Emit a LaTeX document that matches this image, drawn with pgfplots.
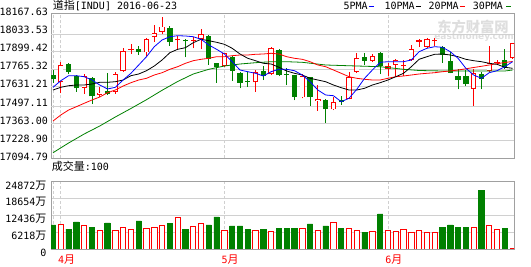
\documentclass[border=0pt]{standalone}
\usepackage{fontspec}
\setmainfont{DejaVu Sans Mono}
\newfontfamily\cjk[Scale=1.1]{Noto Sans CJK SC}
\newfontfamily\wmfont{DejaVu Sans}
\usepackage{pgfplots}
\usepackage{pgfplotstable}
\pgfplotsset{compat=1.18}
\definecolor{vgreen}{RGB}{0,128,0}
\definecolor{vred}{RGB}{255,0,0}
\definecolor{vblue}{RGB}{0,0,255}
\definecolor{gridc}{RGB}{208,208,208}
\definecolor{framec}{RGB}{160,160,160}
\definecolor{wm}{RGB}{222,222,222}
% candles: index, low, body bottom, body top, high
\pgfplotstableread{
x L B T H
0 17654.1 17681.5 17711.1 17748.1
2 17718.5 17735.5 17792.5 17799.9
3 17587.5 17612.7 17705.9 17711.1
5 17498.8 17553.5 17686.7 17698.5
7 17563.2 17570.6 17592.7 17723.7
11 17859.1 17883.5 17905.7 17925.7
15 17925.7 17957.6 18058.9 18075.9
17 17842.1 17959.0 17970.1 17975.3
20 17785.1 17829.5 18001.9 18007.1
21 17654.1 17768.1 17797.7 17799.9
23 17668.9 17742.9 17846.5 17853.9
24 17612.7 17654.1 17728.1 17733.3
25 17624.5 17663.5 17670.0 17735.5
27 17674.1 17705.9 17740.7 17777.7
29 17703.7 17711.1 17896.1 17903.5
30 17637.1 17714.5 17721.5 17760.7
31 17522.5 17550.6 17711.1 17714.8
33 17483.9 17546.1 17694.1 17698.5
35 17358.2 17455.9 17526.2 17531.3
37 17492.8 17507.7 17522.5 17559.4
40 17785.1 17814.7 17842.1 17871.7
42 17718.5 17777.7 17873.9 17883.5
50 17799.9 17859.1 17920.5 17925.7
51 17723.7 17729.6 17814.7 17883.5
52 17603.9 17676.4 17703.7 17753.3
53 17629.7 17644.5 17703.7 17748.1
55 17603.9 17679.3 17722.2 17735.5
58 17755.5 17768.1 17822.1 17901.3
}\greenc
\pgfplotstableread{
x L B T H
1 17577.9 17661.5 17785.1 17807.3
4 17574.2 17618.6 17705.9 17718.5
6 17546.1 17563.2 17580.2 17620.1
8 17570.6 17589.0 17716.3 17735.5
9 17735.5 17738.5 17890.2 17908.7
12 17851.7 17877.6 17976.0 17984.9
13 17957.6 17990.1 18019.7 18077.4
14 18010.8 18031.5 18068.5 18138.0
19 17901.3 17975.3 18012.3 18049.3
22 17772.5 17779.9 17871.7 17876.1
26 17587.5 17657.1 17735.5 17748.1
28 17711.1 17718.5 17908.7 17916.1
32 17538.7 17546.1 17705.9 17718.5
34 17444.8 17518.8 17533.6 17637.1
36 17452.1 17457.3 17509.2 17546.1
38 17531.3 17535.8 17698.5 17735.5
39 17728.1 17735.5 17834.7 17873.9
41 17809.5 17816.9 17853.9 17864.3
43 17703.7 17755.5 17777.7 17797.7
44 17703.7 17785.1 17822.1 17827.3
46 17816.9 17819.9 17901.3 17929.4
48 17908.7 17918.3 17975.3 17982.7
54 17481.8 17611.2 17723.7 17755.5
56 17733.3 17742.9 17797.7 17925.7
59 17829.5 17834.7 17945.7 17950.1
}\redc
\pgfplotstableread{
x L B T H
10 17866.5 17897.0 17905.0 17938.3
16 17896.1 17966.4 17973.8 17999.7
18 17908.7 17961.2 17968.6 17994.5
45 17703.7 17774.0 17781.4 17822.1
47 17918.3 17957.6 17967.9 17975.3
49 17925.7 17959.0 17966.4 17987.1
57 17785.1 17799.0 17806.5 17822.1
}\redthin
\pgfplotsset{
  wick/.style={draw=none, mark=none, forget plot,
    error bars/.cd, y dir=plus, y explicit, error mark=none,
    error bar style={draw=#1, line width=0.8bp}},
  body/.style n args={3}{draw=none, mark=none, forget plot,
    error bars/.cd, y dir=plus, y explicit, error mark=none,
    error bar style={draw=#1, line width=#2, line cap=butt, #3}},
}
\begin{document}
\fontsize{10bp}{12bp}\selectfont
\begin{tikzpicture}
\path[use as bounding box] (0,0) rectangle (531bp,267bp);
% watermark
\node[anchor=center, text=wm, inner sep=0pt] at (473bp,240.3bp) {\fontsize{13bp}{15bp}\cjk\bfseries 东方财富网};
\node[anchor=center, text=wm, inner sep=0pt] at (474bp,229.5bp) {\fontsize{9bp}{10bp}\wmfont\bfseries eastmoney.com};
% title and legend
\node[anchor=base west, inner sep=0pt] at (52.7bp,257.2bp) {{\cjk 道指}[INDU] 2016-06-23};
\node[anchor=base west, inner sep=0pt] at (343.3bp,257.4bp) {5PMA\hspace{1.4bp}\textcolor{vblue}{\rule[2.2bp]{5.3bp}{1.6bp}}};
\node[anchor=base west, inner sep=0pt] at (384.3bp,257.4bp) {10PMA\hspace{1bp}\textcolor{black}{\rule[2.2bp]{5.3bp}{1.6bp}}};
\node[anchor=base west, inner sep=0pt] at (428.3bp,257.4bp) {20PMA\hspace{1bp}\textcolor{vred}{\rule[2.2bp]{5.3bp}{1.6bp}}};
\node[anchor=base west, inner sep=0pt] at (472.7bp,257.4bp) {30PMA\hspace{3bp}\textcolor{vgreen}{\rule[2.2bp]{5.3bp}{1.6bp}}};
\node[anchor=base west, inner sep=0pt] at (51.7bp,96bp) {{\cjk 成交量}:100};

\begin{axis}[
  at={(51bp,108.7bp)}, anchor=south west, scale only axis,
  width=463.3bp, height=145bp,
  xmin=-0.26, xmax=59.22, ymin=17094.79, ymax=18167.63,
  axis line style={framec, line width=0.8bp},
  xtick=\empty,
  extra x ticks={0,1,22,43}, extra x tick labels={},
  extra x tick style={grid=major, major grid style={gridc, dash pattern=on 3bp off 2bp, line width=0.8bp}},
  ytick={17094.79,17228.895,17363.00,17497.105,17631.21,17765.315,17899.42,18033.525,18167.63},
  yticklabels={17094.79,17228.90,17363.00,17497.11,17631.21,17765.32,17899.42,18033.53,18167.63},
  yticklabel style={anchor=east, inner sep=0pt, xshift=-3bp, yshift=1.5bp},
  scaled y ticks=false,
  major tick length=0pt,
  extra y ticks={17225.0,17353.7,17481.8,17629.7,17755.5,17883.5,18012.3},
  extra y tick labels={},
  extra y tick style={grid=major, major grid style={gridc, line width=0.8bp}},
]
% wicks
\addplot[wick=vgreen] table[x=x, y=L, y error plus expr=\thisrow{H}-\thisrow{L}] {\greenc};
\addplot[wick=vred] table[x=x, y=L, y error plus expr=\thisrow{H}-\thisrow{L}] {\redc};
\addplot[wick=vred] table[x=x, y=L, y error plus expr=\thisrow{H}-\thisrow{L}] {\redthin};
% bodies
\addplot[body={vgreen}{5.3bp}{}] table[x=x, y=B, y error plus expr=\thisrow{T}-\thisrow{B}] {\greenc};
\addplot[body={vred}{5.3bp}{}] table[x=x, y=B, y error plus expr=\thisrow{T}-\thisrow{B}] {\redthin};
\addplot[body={vred}{5.3bp}{}] table[x=x, y=B, y error plus expr=\thisrow{T}-\thisrow{B}] {\redc};
\addplot[body={white}{3.7bp}{shorten <=0.8bp, shorten >=0.8bp}] table[x=x, y=B, y error plus expr=\thisrow{T}-\thisrow{B}] {\redc};
% 30PMA
\addplot[vgreen, line width=0.8bp, mark=none] coordinates {(0,17136.2)(2,17208.0)(4,17274.6)(6,17333.8)(8,17400.4)(10,17463.3)(12,17528.4)(14,17597.9)(16,17663.0)(18,17718.5)(20,17753.3)(22,17777.7)(24,17792.5)(26,17802.1)(28,17809.5)(30,17809.5)(32,17805.1)(35,17785.1)(39,17777.7)(42,17772.5)(45,17753.3)(47,17744.4)(50,17740.7)(54,17740.7)(58,17740.7)(59,17748.1)};
% 20PMA
\addplot[vred, line width=0.8bp, mark=none] coordinates {(0,17370.8)(1,17415.2)(2,17452.1)(3,17476.6)(4,17501.7)(5,17526.2)(6,17548.3)(7,17580.2)(8,17600.1)(9,17629.7)(10,17654.1)(11,17674.1)(12,17686.7)(13,17711.1)(14,17728.1)(15,17753.3)(16,17772.5)(17,17797.7)(18,17816.9)(19,17827.3)(20,17834.7)(21,17846.5)(22,17846.5)(23,17853.9)(24,17859.1)(25,17859.1)(26,17864.3)(27,17866.5)(28,17871.7)(29,17866.5)(30,17846.5)(31,17834.7)(32,17827.3)(33,17809.5)(34,17785.1)(35,17772.5)(36,17748.1)(37,17723.7)(38,17698.5)(39,17686.7)(40,17679.3)(41,17674.1)(42,17674.1)(43,17686.7)(44,17698.5)(45,17703.7)(46,17711.1)(47,17718.5)(48,17723.7)(49,17728.1)(50,17735.5)(51,17740.7)(52,17748.1)(53,17757.0)(54,17766.6)(55,17775.5)(56,17785.1)(57,17794.7)(58,17803.6)(59,17811.0)};
% 10PMA
\addplot[black, line width=0.8bp, mark=none] coordinates {(0,17600.1)(1,17620.1)(2,17631.9)(3,17637.1)(4,17637.1)(5,17644.5)(6,17657.1)(7,17657.1)(8,17661.5)(9,17674.1)(10,17705.9)(11,17718.5)(12,17742.9)(13,17777.7)(14,17822.1)(15,17876.1)(16,17901.3)(17,17913.1)(18,17950.1)(19,17975.3)(20,17964.9)(21,17953.1)(22,17938.3)(23,17908.7)(24,17866.5)(25,17834.7)(26,17816.9)(27,17797.7)(28,17792.5)(29,17768.1)(30,17740.7)(31,17723.7)(32,17711.1)(33,17686.7)(34,17674.1)(35,17661.5)(36,17637.1)(37,17617.2)(38,17600.1)(39,17600.1)(40,17612.7)(41,17637.1)(42,17654.1)(43,17674.1)(44,17698.5)(45,17723.7)(46,17772.5)(47,17827.3)(48,17846.5)(49,17864.3)(50,17866.5)(51,17859.1)(52,17846.5)(53,17827.3)(54,17816.9)(55,17809.5)(56,17797.7)(57,17790.3)(58,17768.1)(59,17760.7)};
% 5PMA
\addplot[vblue, line width=0.8bp, mark=none] coordinates {(0,17620.1)(1,17668.9)(2,17705.9)(3,17705.9)(4,17698.5)(5,17674.1)(6,17637.1)(7,17607.6)(8,17620.1)(9,17674.1)(10,17723.7)(11,17785.1)(12,17846.5)(13,17920.5)(14,17970.1)(15,17994.5)(16,18001.9)(17,17999.7)(18,17994.5)(19,17975.3)(20,17933.1)(21,17901.3)(22,17866.5)(23,17809.5)(24,17748.1)(25,17735.5)(26,17723.7)(27,17703.7)(28,17735.5)(29,17753.3)(30,17753.3)(31,17742.9)(32,17711.1)(33,17661.5)(34,17600.1)(35,17563.2)(36,17558.0)(37,17513.6)(38,17538.7)(39,17605.3)(40,17686.7)(41,17748.1)(42,17805.1)(43,17809.5)(44,17809.5)(45,17809.5)(46,17822.1)(47,17883.5)(48,17908.7)(49,17920.5)(50,17916.1)(51,17883.5)(52,17834.7)(53,17760.7)(54,17711.1)(55,17686.7)(56,17728.0)(57,17742.9)(58,17772.5)(59,17809.5)};
\end{axis}

\begin{axis}[
  at={(51bp,18bp)}, anchor=south west, scale only axis,
  width=463.3bp, height=67.3bp,
  xmin=-0.26, xmax=59.22, ymin=0, ymax=24872,
  axis line style={framec, line width=0.8bp},
  ytick={0,6218,12436,18654,24872},
  yticklabels={0,6218{\cjk 万},12436{\cjk 万},18654{\cjk 万},24872{\cjk 万}},
  yticklabel style={anchor=east, inner sep=0pt, xshift=-4.3bp, yshift=-3.7bp},
  scaled y ticks=false,
  ymajorgrids, major grid style={gridc, line width=0.8bp},
  xtick={1.75,22.75,43.75},
  xticklabels={4{\cjk 月},5{\cjk 月},6{\cjk 月}},
  xticklabel style={text=vred, anchor=north, inner sep=0pt, yshift=-5.5bp},
  major tick length=0pt,
  extra x ticks={0,1,22,43}, extra x tick labels={},
  extra x tick style={grid=major, major grid style={gridc, dash pattern=on 3bp off 2bp, line width=0.8bp}},
  ybar, bar width=5.3bp, bar shift=0pt,
]
\addplot[draw=vgreen, fill=vgreen, line width=0.8bp] coordinates {(0,8870)(2,7390)(3,9980)(5,8130)(7,9610)(11,10350)(15,9360)(17,7390)(20,8870)(21,11830)(23,8500)(24,8500)(25,7390)(27,7390)(29,7760)(30,7760)(31,7760)(33,9240)(35,8500)(37,7760)(40,6280)(42,12940)(50,8130)(51,8870)(52,8130)(53,8130)(55,21800)(58,7760)};
\addplot[draw=vred, fill=white, line width=0.8bp] coordinates {(1,9240)(4,8870)(6,7020)(8,7020)(9,8130)(10,7390)(12,7760)(13,8130)(14,8870)(16,11830)(18,8500)(19,9610)(22,7020)(26,7020)(28,6650)(32,7760)(34,7020)(36,9980)(38,7760)(39,7020)(41,6650)(43,7020)(44,6650)(45,7390)(46,6280)(47,7020)(48,6280)(49,6280)(54,8130)(56,8870)(57,7390)(59,300)};
\end{axis}
\end{tikzpicture}
\end{document}
